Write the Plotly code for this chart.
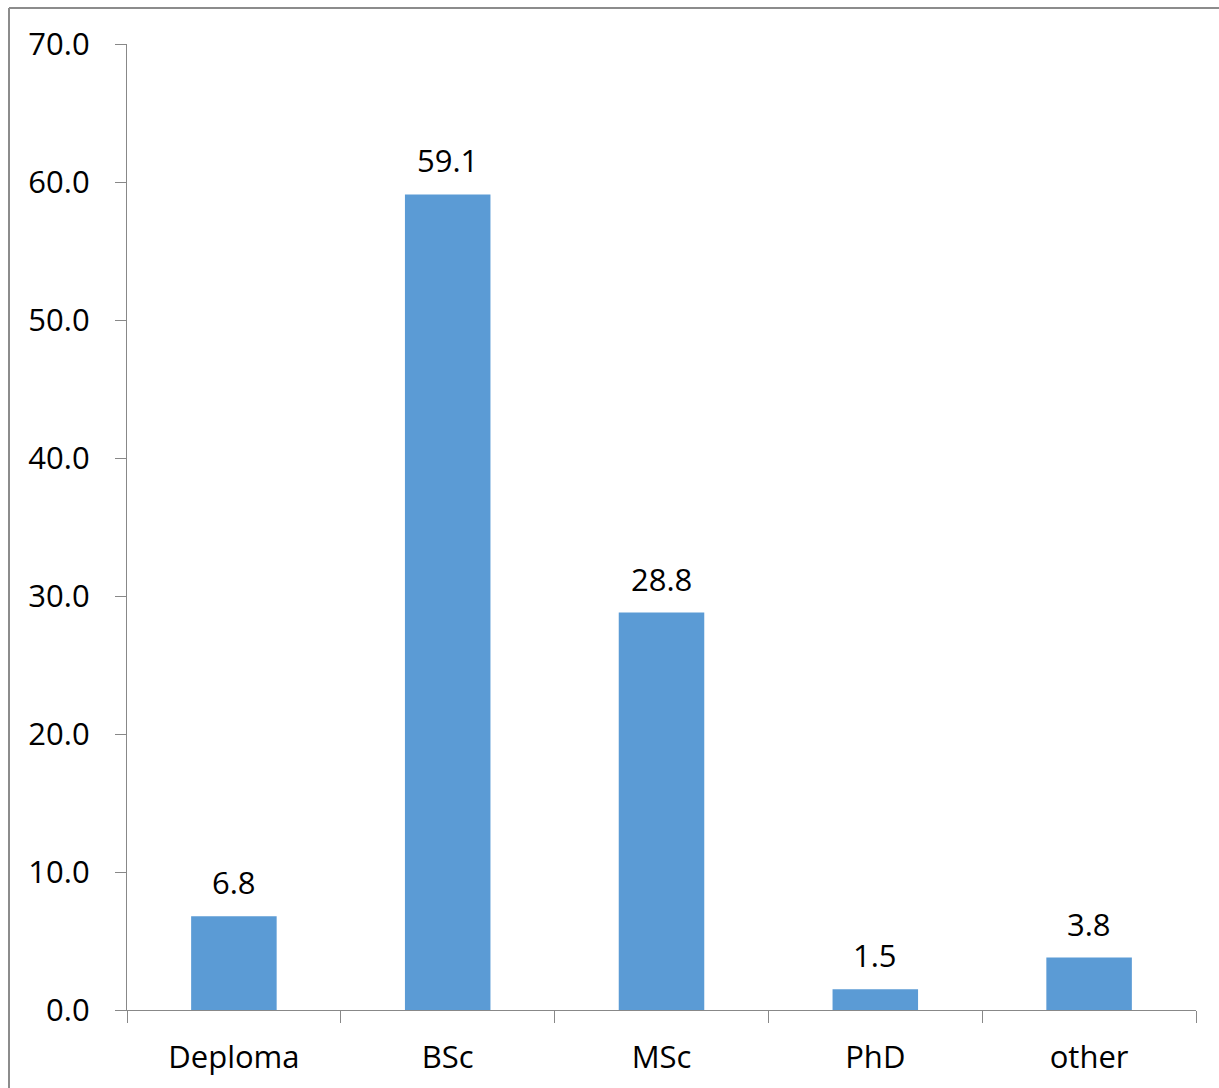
import plotly.graph_objects as go

categories = ["Deploma", "BSc", "MSc", "PhD", "other"]
values = [6.8, 59.1, 28.8, 1.5, 3.8]
value_labels = ["6.8", "59.1", "28.8", "1.5", "3.8"]

W, H = 1219, 1088
L, R, T, B = 127, 1196, 44, 1010

fig = go.Figure()
fig.add_trace(go.Bar(x=categories, y=values, marker=dict(color="#5B9BD5", line=dict(width=0)),
                     hoverinfo="skip"))

font_family = "Open Sans"
for c, v, t in zip(categories, values, value_labels):
    fig.add_annotation(x=c, y=v, text=t, showarrow=False, yanchor="bottom", yshift=11,
                       font=dict(family=font_family, size=31, color="#000000"))

axis_col = "#888888"
fig.update_layout(
    width=W, height=H, autosize=False,
    margin=dict(l=L, r=W - R, t=T, b=H - B, pad=0),
    paper_bgcolor="white", plot_bgcolor="white",
    bargap=0.6, showlegend=False,
    font=dict(family=font_family, size=31, color="#000000"),
)
fig.update_xaxes(showline=True, linecolor=axis_col, linewidth=1.3, ticks="outside",
                 tickson="boundaries", ticklen=12, tickcolor=axis_col, tickwidth=1.3,
                 showgrid=False, tickfont=dict(family=font_family, size=31), ticklabelstandoff=20)
fig.update_yaxes(range=[0, 70], dtick=10, tickformat=".1f", showline=True, linecolor=axis_col,
                 linewidth=1.3, ticks="outside", ticklen=11, tickcolor=axis_col, tickwidth=1.3,
                 showgrid=False, zeroline=False, tickfont=dict(family=font_family, size=31),
                 ticklabelstandoff=19)

# outer chart border (top and left edges visible)
pw, ph = R - L, B - T
x_left = (9 - L) / pw
y_top = 1 + (T - 8) / ph
fig.add_shape(type="line", xref="paper", yref="paper", x0=x_left, x1=x_left, y0=y_top, y1=-0.2,
              line=dict(color="#8c8c8c", width=2))
fig.add_shape(type="line", xref="paper", yref="paper", x0=x_left, x1=1.2, y0=y_top, y1=y_top,
              line=dict(color="#8c8c8c", width=2))

fig.write_html("out.html")
